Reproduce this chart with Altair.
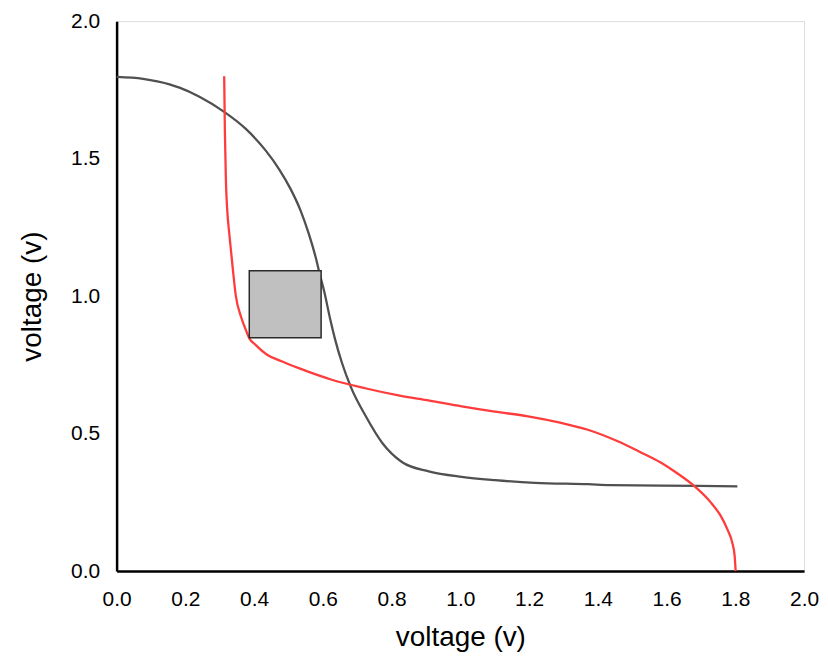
import altair as alt
import pandas as pd

# Red curve
red_x = [0.313, 0.315, 0.318, 0.322, 0.328, 0.338, 0.347, 0.362, 0.376, 0.386, 0.405, 0.439,
         0.48, 0.530, 0.626, 0.723, 0.820, 0.91, 1.004, 1.10, 1.197, 1.29, 1.371, 1.458,
         1.52, 1.583, 1.632, 1.675, 1.729, 1.758, 1.777, 1.791, 1.798, 1.801]
red_y = [1.80, 1.601, 1.420, 1.310, 1.225, 1.100, 1.000, 0.925, 0.877, 0.847, 0.822, 0.786,
         0.763, 0.738, 0.696, 0.665, 0.639, 0.62, 0.599, 0.58, 0.563, 0.54, 0.514, 0.472,
         0.435, 0.395, 0.355, 0.315, 0.249, 0.200, 0.152, 0.104, 0.056, 0.0]

# Dark curve
dark_x = [0.0, 0.077, 0.154, 0.183, 0.241, 0.313, 0.376, 0.434, 0.472, 0.506, 0.535, 0.559,
          0.579, 0.593, 0.603, 0.622, 0.636, 0.656, 0.681, 0.725, 0.773, 0.831, 0.908,
          1.004, 1.101, 1.217, 1.373, 1.436, 1.693, 1.806]
dark_y = [1.797, 1.790, 1.770, 1.758, 1.725, 1.670, 1.608, 1.529, 1.463, 1.390, 1.312, 1.227,
          1.142, 1.070, 1.022, 0.913, 0.841, 0.756, 0.671, 0.563, 0.466, 0.396, 0.363,
          0.343, 0.331, 0.321, 0.316, 0.313, 0.310, 0.308]

# Gray box
box_x = [0.386]
box_x2 = [0.595]
box_y = [0.849]
box_y2 = [1.092]

red_df = pd.DataFrame({"x": red_x, "y": red_y})
dark_df = pd.DataFrame({"x": dark_x, "y": dark_y})
box_df = pd.DataFrame({"x": box_x, "x2": box_x2, "y": box_y, "y2": box_y2})

FONT = "Liberation Sans"

xscale = alt.Scale(domain=[0, 2], nice=False, zero=False)
yscale = alt.Scale(domain=[0, 2], nice=False, zero=False)

xaxis = alt.Axis(
    title="voltage (v)", values=[0, 0.2, 0.4, 0.6, 0.8, 1.0, 1.2, 1.4, 1.6, 1.8, 2.0],
    format=".1f", grid=False, ticks=False, tickSize=0, labelPadding=29,
    labelBaseline="middle", labelFontSize=21, labelFont=FONT, labelColor="#000000",
    domainColor="#000000", domainWidth=2.5, titleFont=FONT, titleFontSize=28,
    titleFontWeight="normal", titleColor="#000000", titleX=345, titleY=67,
    titleBaseline="middle", titleAlign="center", labelFlush=False,
)
yaxis = alt.Axis(
    title="voltage (v)", values=[0, 0.5, 1.0, 1.5, 2.0], format=".1f", grid=False,
    ticks=False, tickSize=0, labelPadding=17, labelFontSize=21, labelFont=FONT,
    labelColor="#000000", domainColor="#000000", domainWidth=2.5, titleFont=FONT,
    titleFontSize=28, titleFontWeight="normal", titleColor="#000000", titleX=-84,
    titleY=276, titleBaseline="middle", titleAlign="center", titleAngle=270,
    labelFlush=False,
)

dark = alt.Chart(dark_df).mark_line(color="#505050", strokeWidth=2.3, interpolate="monotone").encode(
    x=alt.X("x:Q", scale=xscale, axis=xaxis),
    y=alt.Y("y:Q", scale=yscale, axis=yaxis),
)
red = alt.Chart(red_df).mark_line(color="#ff3c3c", strokeWidth=2.3, interpolate="monotone").encode(
    x=alt.X("x:Q", scale=xscale),
    y=alt.Y("y:Q", scale=yscale),
)
box = alt.Chart(box_df).mark_rect(fill="#c0c0c0", stroke="#2a2a2a", strokeWidth=1.5).encode(
    x=alt.X("x:Q", scale=xscale), x2="x2:Q",
    y=alt.Y("y:Q", scale=yscale), y2="y2:Q",
)

chart = (
    alt.layer(dark, red, box)
    .properties(
        width=690, height=552,
        autosize=alt.AutoSizeParams(type="none"),
        padding={"left": 109, "top": 12, "right": 16, "bottom": 84},
    )
    .configure_view(stroke=None)
    .configure(background="#ffffff")
)

chart.save("out.html", embed_options={"renderer": "svg", "actions": False})
